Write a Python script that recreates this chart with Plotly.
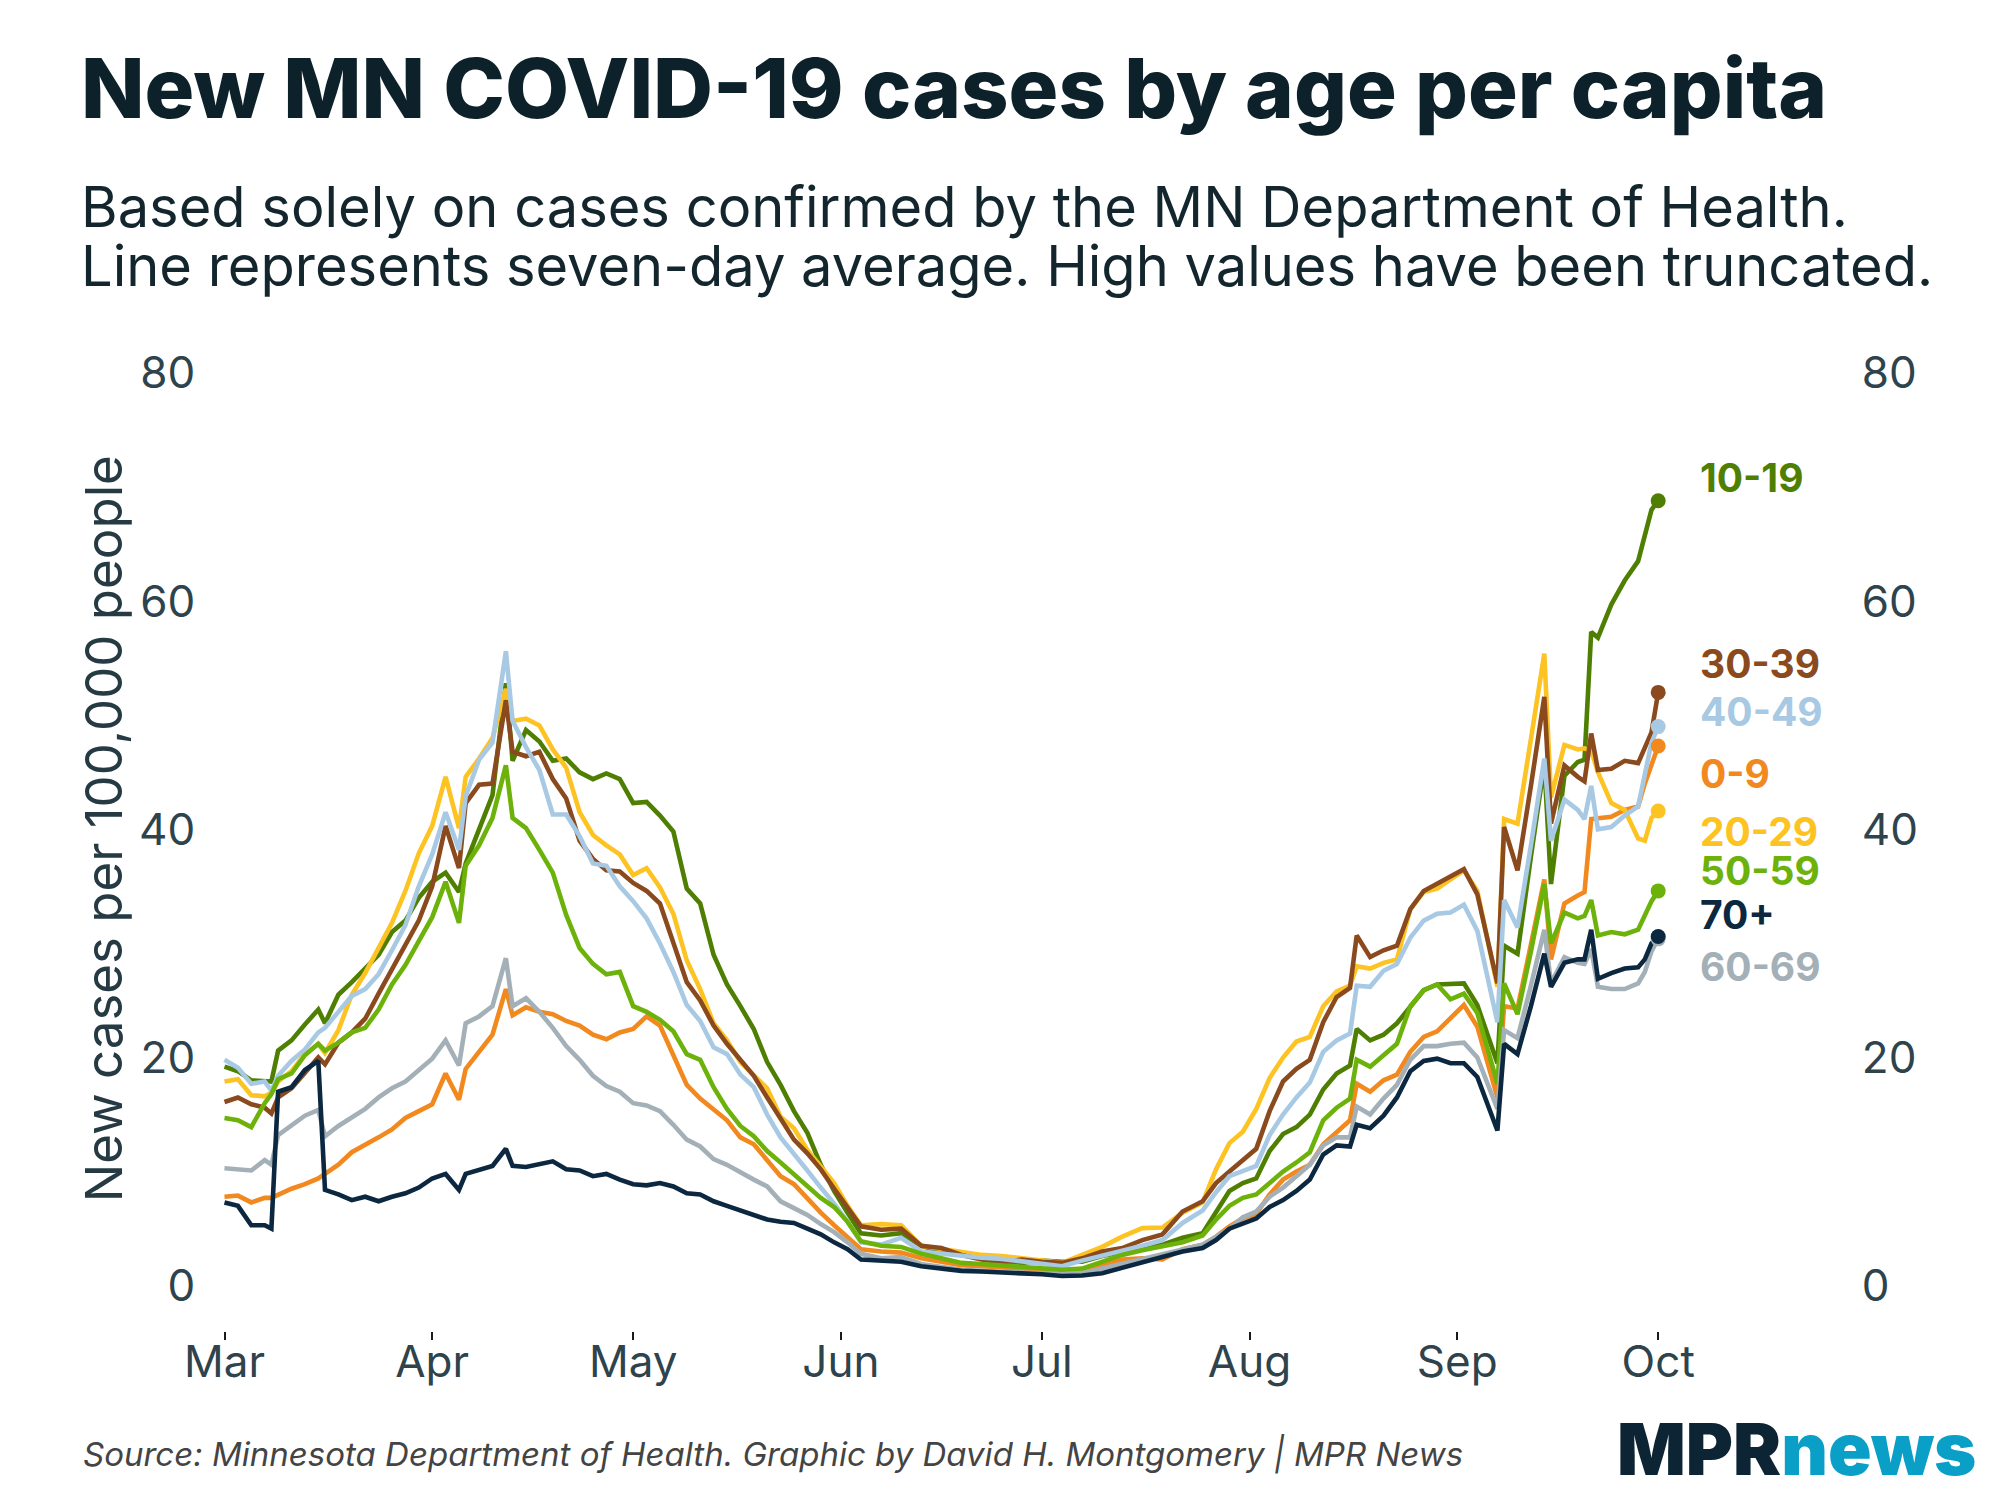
import plotly.graph_objects as go
import pandas as pd

# ---------------- data ----------------
dates = [
    "2020-03-01", "2020-03-03", "2020-03-05", "2020-03-07", "2020-03-08", "2020-03-09", "2020-03-11",
    "2020-03-13", "2020-03-15", "2020-03-16", "2020-03-18", "2020-03-20", "2020-03-22", "2020-03-24",
    "2020-03-26", "2020-03-28", "2020-03-30", "2020-04-01", "2020-04-03", "2020-04-05", "2020-04-06",
    "2020-04-08", "2020-04-10", "2020-04-12", "2020-04-13", "2020-04-15", "2020-04-17", "2020-04-19",
    "2020-04-21", "2020-04-23", "2020-04-25", "2020-04-27", "2020-04-29", "2020-05-01", "2020-05-03",
    "2020-05-05", "2020-05-07", "2020-05-09", "2020-05-11", "2020-05-13", "2020-05-15", "2020-05-17",
    "2020-05-19", "2020-05-21", "2020-05-23", "2020-05-25", "2020-05-27", "2020-05-29", "2020-05-31",
    "2020-06-02", "2020-06-04", "2020-06-07", "2020-06-10", "2020-06-13", "2020-06-16", "2020-06-19",
    "2020-06-22", "2020-06-25", "2020-06-28", "2020-07-01", "2020-07-04", "2020-07-07", "2020-07-10",
    "2020-07-13", "2020-07-16", "2020-07-19", "2020-07-22", "2020-07-25", "2020-07-27", "2020-07-29",
    "2020-07-31", "2020-08-02", "2020-08-04", "2020-08-06", "2020-08-08", "2020-08-10", "2020-08-12",
    "2020-08-14", "2020-08-16", "2020-08-17", "2020-08-19", "2020-08-21", "2020-08-23", "2020-08-25",
    "2020-08-27", "2020-08-29", "2020-08-31", "2020-09-02", "2020-09-04", "2020-09-06", "2020-09-07",
    "2020-09-08", "2020-09-10", "2020-09-12", "2020-09-14", "2020-09-15", "2020-09-17", "2020-09-19",
    "2020-09-20", "2020-09-21", "2020-09-22", "2020-09-24", "2020-09-26", "2020-09-28", "2020-09-29",
    "2020-09-30", "2020-10-01",
]

cases_0_9 = [
    7.8, 7.9, 7.3, 7.7, 7.7, 8.0, 8.5, 8.9, 9.4, 9.8, 10.6, 11.7, 12.3, 13.0, 13.7, 14.7, 15.3, 15.9,
    18.6, 16.3, 19.0, 20.5, 22.0, 26.0, 23.7, 24.4, 24.0, 23.8, 23.2, 22.8, 22.0, 21.6, 22.2, 22.5,
    23.6, 22.8, 20.3, 17.6, 16.4, 15.4, 14.5, 13.0, 12.4, 11.0, 9.6, 8.9, 7.6, 6.4, 5.3, 4.3, 3.2,
    3.0, 2.9, 2.4, 2.1, 1.8, 1.7, 1.6, 1.45, 1.4, 1.3, 1.4, 1.9, 2.3, 2.4, 2.3, 3.2, 3.6, 4.3, 5.2,
    5.9, 6.3, 8.0, 9.3, 10.0, 10.6, 12.4, 13.5, 14.5, 17.7, 17.0, 18.0, 18.5, 20.5, 21.8, 22.3, 23.5,
    24.6, 22.7, 18.6, 16.5, 24.5, 24.3, 29.9, 35.6, 28.6, 33.5, 34.2, 34.5, 40.9, 41.0, 41.1, 41.7,
    42.0, 44.0, 45.7, 47.3,
]
cases_10_19 = [
    19.2, 18.8, 18.0, 17.9, 17.9, 20.6, 21.5, 22.9, 24.2, 23.0, 25.5, 26.6, 27.8, 29.0, 31.0, 32.0,
    34.0, 35.4, 36.2, 34.5, 37.0, 40.0, 43.0, 52.8, 46.0, 48.7, 47.7, 46.0, 46.2, 45.0, 44.4, 44.9,
    44.4, 42.3, 42.4, 41.2, 39.8, 34.8, 33.5, 29.0, 26.4, 24.5, 22.5, 19.6, 17.6, 15.3, 13.4, 10.6,
    8.3, 6.4, 4.6, 4.4, 4.6, 3.5, 3.0, 2.7, 2.4, 2.2, 2.0, 2.2, 2.1, 2.1, 2.6, 3.0, 3.3, 3.6, 4.2,
    4.6, 6.5, 8.3, 9.0, 9.4, 11.8, 13.3, 13.9, 15.0, 17.2, 18.6, 19.3, 22.5, 21.5, 22.0, 23.0, 24.5,
    25.9, 26.4, 26.4, 26.5, 24.6, 21.2, 19.5, 29.8, 29.1, 37.6, 45.7, 35.2, 44.7, 45.9, 46.1, 57.3,
    56.8, 59.7, 61.8, 63.5, 65.6, 68.0, 68.8,
]
cases_20_29 = [
    17.9, 18.1, 16.7, 16.6, 16.9, 17.9, 18.8, 20.3, 21.2, 20.4, 22.4, 25.5, 27.4, 29.5, 31.8, 34.6,
    37.9, 40.3, 44.6, 40.1, 44.6, 46.2, 48.0, 52.3, 49.5, 49.7, 49.1, 47.0, 45.4, 41.5, 39.5, 38.6,
    37.8, 36.0, 36.6, 34.9, 32.6, 28.5, 26.0, 23.0, 21.5, 19.6, 18.5, 17.3, 14.8, 13.8, 11.9, 10.4,
    9.0, 7.0, 5.3, 5.4, 5.3, 3.5, 3.2, 2.9, 2.7, 2.6, 2.4, 2.1, 2.0, 2.7, 3.4, 4.3, 5.05, 5.1, 6.4,
    7.3, 10.2, 12.5, 13.5, 15.5, 18.2, 20.0, 21.4, 21.8, 24.5, 25.8, 26.3, 28.0, 27.8, 28.3, 28.6,
    33.0, 34.5, 34.8, 35.6, 36.4, 34.6, 29.0, 26.2, 40.9, 40.5, 47.9, 55.4, 42.8, 47.4, 47.0, 47.1,
    46.9, 45.0, 42.3, 41.7, 39.2, 39.0, 41.0, 41.6,
]
cases_30_39 = [
    16.1, 16.5, 15.9, 15.6, 15.1, 16.5, 17.3, 18.6, 20.0, 19.4, 21.3, 22.2, 23.4, 25.6, 27.8, 29.8,
    32.0, 35.0, 40.3, 36.6, 42.3, 43.9, 44.0, 51.3, 46.8, 46.4, 46.8, 44.4, 42.7, 39.0, 37.4, 36.4,
    36.3, 35.3, 34.6, 33.5, 30.0, 26.6, 25.0, 22.8, 21.2, 19.8, 18.4, 16.5, 14.6, 12.8, 11.6, 10.2,
    8.5, 6.8, 5.2, 4.9, 5.0, 3.5, 3.3, 2.7, 2.3, 2.05, 2.3, 2.1, 2.0, 2.4, 3.0, 3.3, 4.0, 4.5, 6.5,
    7.4, 9.0, 10.0, 11.0, 12.0, 15.3, 17.9, 19.0, 19.8, 23.1, 25.3, 26.1, 30.7, 28.8, 29.4, 29.8,
    33.0, 34.6, 35.2, 35.8, 36.5, 34.3, 29.1, 26.5, 40.2, 36.4, 43.8, 51.6, 40.5, 45.6, 44.6, 44.2,
    48.4, 45.2, 45.3, 46.0, 45.8, 47.1, 48.5, 52.0,
]
cases_40_49 = [
    19.8, 19.1, 17.7, 17.9, 17.1, 18.4, 19.7, 20.7, 22.2, 22.6, 24.0, 25.4, 26.0, 27.3, 29.4, 31.6,
    35.0, 37.8, 41.5, 38.2, 42.9, 46.1, 47.6, 55.6, 49.5, 47.2, 45.2, 41.3, 41.3, 39.4, 37.0, 36.8,
    35.0, 33.7, 32.2, 30.0, 27.5, 24.6, 23.2, 20.9, 20.3, 18.5, 17.4, 15.0, 13.0, 11.6, 10.1, 8.6,
    7.2, 5.6, 3.8, 3.6, 4.2, 3.0, 2.8, 2.6, 2.45, 2.35, 2.15, 1.9, 1.7, 2.2, 2.6, 3.1, 3.5, 4.0, 5.5,
    6.6, 8.2, 9.6, 10.0, 10.5, 13.2, 15.0, 16.5, 17.8, 20.5, 21.5, 22.1, 26.3, 26.2, 27.6, 28.2,
    30.5, 32.0, 32.6, 32.7, 33.4, 31.1, 25.8, 23.1, 33.8, 31.4, 38.6, 46.2, 39.0, 42.6, 41.7, 40.9,
    43.8, 40.0, 40.2, 41.2, 42.0, 44.7, 47.6, 49.0,
]
cases_50_59 = [
    14.7, 14.5, 13.9, 16.0, 16.8, 18.1, 18.6, 20.2, 21.2, 20.6, 21.3, 22.2, 22.6, 24.2, 26.4, 28.1,
    30.2, 32.3, 35.4, 31.8, 36.8, 38.6, 41.0, 45.6, 41.0, 40.1, 38.2, 36.2, 32.5, 29.6, 28.2, 27.3,
    27.5, 24.5, 24.0, 23.3, 22.3, 20.3, 19.8, 17.4, 15.5, 14.0, 13.1, 11.8, 10.8, 9.8, 8.8, 7.7,
    6.9, 5.6, 3.9, 3.5, 3.4, 2.8, 2.4, 2.0, 1.9, 1.8, 1.6, 1.5, 1.4, 1.5, 2.1, 2.7, 3.1, 3.4, 3.8,
    4.4, 5.8, 7.0, 7.7, 8.0, 9.0, 10.0, 10.8, 11.7, 14.5, 15.6, 16.4, 19.8, 19.2, 20.2, 21.2, 24.5,
    25.9, 26.4, 25.1, 25.6, 23.9, 19.8, 17.7, 26.5, 23.8, 29.3, 35.2, 30.0, 32.7, 32.2, 32.4, 33.8,
    30.7, 31.0, 30.8, 31.2, 32.5, 33.7, 34.6,
]
cases_60_69 = [
    10.3, 10.2, 10.1, 11.0, 10.6, 13.2, 14.1, 14.9, 15.4, 13.1, 14.0, 14.8, 15.5, 16.5, 17.3, 17.9,
    18.9, 19.9, 21.5, 19.3, 23.0, 23.6, 24.5, 28.7, 24.5, 25.2, 24.0, 22.6, 21.0, 19.8, 18.4, 17.5,
    17.0, 16.0, 15.8, 15.3, 14.1, 12.8, 12.2, 11.1, 10.6, 9.9, 9.3, 8.7, 7.4, 6.8, 6.2, 5.4, 4.7,
    3.8, 2.8, 2.4, 2.5, 1.9, 1.6, 1.4, 1.3, 1.25, 1.15, 1.1, 1.0, 1.1, 1.5, 1.9, 2.4, 2.8, 3.2, 3.6,
    4.3, 5.0, 6.0, 6.5, 7.8, 8.6, 9.6, 10.6, 12.3, 13.0, 13.0, 15.7, 15.0, 16.4, 17.6, 19.8, 21.0,
    21.0, 21.2, 21.3, 20.0, 17.0, 15.5, 22.4, 21.7, 26.3, 31.2, 26.5, 28.8, 28.3, 28.2, 29.5, 26.2,
    26.0, 26.0, 26.5, 27.5, 29.3, 30.4,
]
cases_70_plus = [
    7.3, 7.0, 5.3, 5.3, 5.0, 17.0, 17.4, 18.9, 19.7, 8.4, 8.0, 7.5, 7.8, 7.4, 7.8, 8.1, 8.6, 9.4,
    9.8, 8.4, 9.8, 10.1, 10.5, 12.0, 10.5, 10.4, 10.6, 10.9, 10.2, 10.1, 9.6, 9.8, 9.3, 8.9, 8.8,
    9.0, 8.7, 8.1, 8.0, 7.4, 7.0, 6.6, 6.3, 5.8, 5.6, 5.5, 5.0, 4.5, 3.8, 3.2, 2.3, 2.2, 2.1, 1.7,
    1.5, 1.3, 1.25, 1.2, 1.1, 1.0, 0.85, 0.9, 1.1, 1.6, 2.0, 2.5, 3.0, 3.3, 4.0, 5.0, 5.4, 5.9, 6.9,
    7.5, 8.3, 9.3, 11.5, 12.3, 12.2, 14.1, 13.8, 14.9, 16.5, 18.8, 19.7, 19.9, 19.5, 19.5, 18.3,
    15.2, 13.6, 21.2, 20.3, 24.5, 29.1, 26.2, 28.3, 28.6, 28.6, 31.2, 26.9, 27.4, 27.8, 27.9, 28.6,
    30.0, 30.6,
]

age_groups = ["0-9", "10-19", "20-29", "30-39", "40-49", "50-59", "60-69", "70+"]
series = [cases_0_9, cases_10_19, cases_20_29, cases_30_39, cases_40_49,
          cases_50_59, cases_60_69, cases_70_plus]
month_ticks = ["2020-03-01", "2020-04-01", "2020-05-01", "2020-06-01",
               "2020-07-01", "2020-08-01", "2020-09-01", "2020-10-01"]
month_labels = ["Mar", "Apr", "May", "Jun", "Jul", "Aug", "Sep", "Oct"]
y_ticks = [0, 20, 40, 60, 80]

# ---------------- styling ----------------
colors = {
    "0-9": "#f2891f", "10-19": "#4f7f02", "20-29": "#fdc322", "30-39": "#8b4a1e",
    "40-49": "#a7c9e3", "50-59": "#6db20b", "60-69": "#a4b0b7", "70+": "#0c2740",
}
label_y = {"10-19": 70.8, "30-39": 54.5, "40-49": 50.3, "0-9": 44.9,
           "20-29": 39.8, "50-59": 36.4, "70+": 32.5, "60-69": 28.0}

W, H = 2000, 1500
L, R, T, B = 205, 1852, 349.6, 1331
X_MAR, X_OCT = 224.5, 1658.2
Y0, Y80 = 1285.7, 372.5

start = pd.Timestamp("2020-03-01")
px_per_day = (X_OCT - X_MAR) / 214.0
x_range = [(start + pd.Timedelta(days=(L - X_MAR) / px_per_day)).strftime("%Y-%m-%d %H:%M:%S"),
           (start + pd.Timedelta(days=(R - X_MAR) / px_per_day)).strftime("%Y-%m-%d %H:%M:%S")]
px_per_unit = (Y0 - Y80) / 80.0
y_range = [-(B - Y0) / px_per_unit, 80 + (Y80 - T) / px_per_unit]


def px_x(x):
    return (x - L) / (R - L)


def px_y(y):
    return (B - y) / (B - T)


FONT = "Inter"
TICK_COLOR = "#2e434c"

fig = go.Figure()
for name, vals in zip(age_groups, series):
    fig.add_trace(go.Scatter(x=dates, y=vals, mode="lines", name=name,
                             line=dict(color=colors[name], width=4.6), hoverinfo="skip"))
for name, vals in zip(age_groups, series):
    fig.add_trace(go.Scatter(x=[dates[-1]], y=[vals[-1]], mode="markers", name=name,
                             marker=dict(color=colors[name], size=15), hoverinfo="skip"))

annotations = []
for name in age_groups:
    annotations.append(dict(text=name, xref="paper", yref="y", x=px_x(1698), y=label_y[name],
                            xanchor="left", yanchor="middle", showarrow=False,
                            font=dict(family=FONT, size=39, color=colors[name], weight=700)))

annotations += [
    dict(text="New MN COVID-19 cases by age per capita", xref="paper", yref="paper",
         x=px_x(79), y=px_y(87), xanchor="left", yanchor="middle", showarrow=False,
         font=dict(family=FONT, size=83, color="#0c2129", weight=800)),
    dict(text="Based solely on cases confirmed by the MN Department of Health.", xref="paper",
         yref="paper", x=px_x(79), y=px_y(207), xanchor="left", yanchor="middle", showarrow=False,
         font=dict(family=FONT, size=56, color="#13262e")),
    dict(text="Line represents seven-day average. High values have been truncated.", xref="paper",
         yref="paper", x=px_x(79), y=px_y(266), xanchor="left", yanchor="middle", showarrow=False,
         font=dict(family=FONT, size=56, color="#13262e")),
    dict(text="New cases per 100,000 people", xref="paper", yref="paper", x=px_x(103),
         y=px_y(829), xanchor="center", yanchor="middle", textangle=-90, showarrow=False,
         font=dict(family=FONT, size=51, color="#253a43")),
    dict(text="<i>Source: Minnesota Department of Health. Graphic by David H. Montgomery | MPR News</i>",
         xref="paper", yref="paper", x=px_x(81), y=px_y(1454), xanchor="left", yanchor="middle",
         showarrow=False, font=dict(family=FONT, size=33, color="#444444")),
    dict(text="<span style='color:#0c2433'>MPR</span><span style='color:#0a9fc7'>news</span>",
         xref="paper", yref="paper", x=px_x(1978), y=px_y(1449), xanchor="right", yanchor="middle",
         showarrow=False, font=dict(family=FONT, size=72, weight=900)),
]

axis_common = dict(range=y_range, tickvals=y_ticks, showgrid=False, zeroline=False,
                   showline=False, ticks="outside", ticklen=10, tickcolor="rgba(0,0,0,0)",
                   ticklabelstandoff=-10,
                   tickfont=dict(family=FONT, size=44, color=TICK_COLOR), automargin=False,
                   fixedrange=True)

fig.update_layout(
    width=W, height=H,
    margin=dict(l=L, r=W - R, t=T, b=H - B, pad=0, autoexpand=False),
    paper_bgcolor="white", plot_bgcolor="white",
    showlegend=False,
    font=dict(family=FONT),
    xaxis=dict(type="date", range=x_range, tickvals=month_ticks, ticktext=month_labels,
               showgrid=False, zeroline=False, showline=False, ticks="outside", ticklen=8,
               tickwidth=2, tickcolor="#1a1a1a", ticklabelstandoff=-16,
               tickfont=dict(family=FONT, size=44, color=TICK_COLOR), automargin=False),
    yaxis=dict(**axis_common),
    yaxis2=dict(**axis_common, overlaying="y", side="right", anchor="x"),
    annotations=annotations,
)
# invisible point so the mirrored right axis renders
fig.add_trace(go.Scatter(x=[dates[0]], y=[0], yaxis="y2", mode="markers",
                         marker=dict(opacity=0), hoverinfo="skip", showlegend=False))

fig.write_html("out.html", config={"displayModeBar": False},
               post_script="document.body.style.margin='0';")
